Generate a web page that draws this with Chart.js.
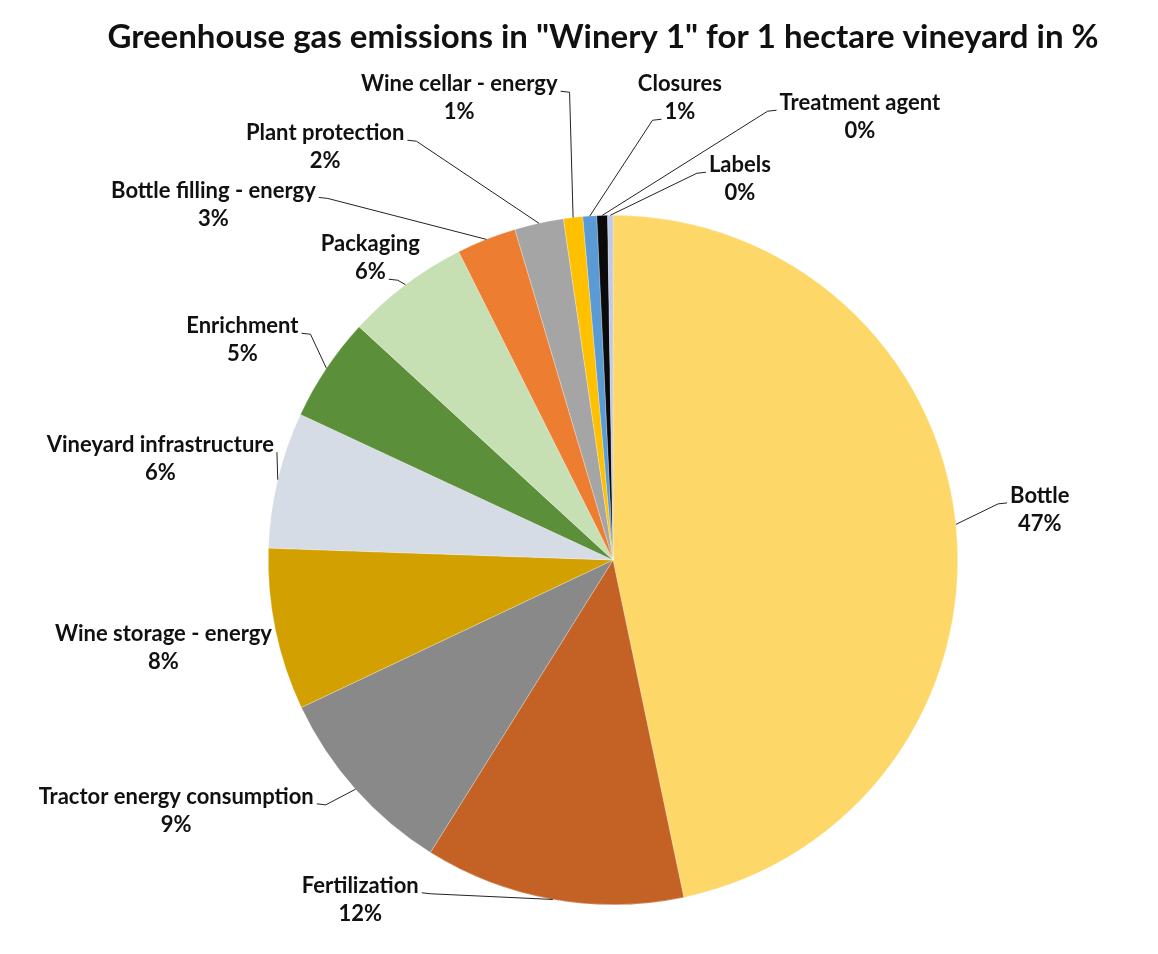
<!DOCTYPE html>
<html lang="en">
<head>
    <meta charset="UTF-8">
    <title>Greenhouse gas emissions in "Winery 1"</title>
    <script src="https://cdn.jsdelivr.net/npm/chart.js"></script>
    <style>
        body {
            margin: 0;
            background: #fff;
        }

        #wrap {
            width: 1158px;
            height: 954px;
        }
    </style>
</head>
<body>
    <div id="wrap">
        <canvas id="chart" width="1158" height="954"></canvas>
    </div>

    <script>
        // categories, clockwise from 12 o'clock
        const categories = [
            'Bottle', 'Fertilization', 'Tractor energy consumption', 'Wine storage - energy',
            'Vineyard infrastructure', 'Enrichment', 'Packaging', 'Bottle filling - energy',
            'Plant protection', 'Wine cellar - energy', 'Closures', 'Treatment agent', 'Labels'
        ];
        // share in %
        const shares = [46.8, 12.2, 9.1, 7.6, 6.4, 4.9, 5.8, 2.8, 2.3, 0.9, 0.65, 0.5, 0.25];
        // rounded values printed on the chart
        const shareLabels = ['47%', '12%', '9%', '8%', '6%', '5%', '6%', '3%', '2%', '1%', '1%', '0%', '0%'];

        const titleText = 'Greenhouse gas emissions in "Winery 1" for 1 hectare vineyard in %';

        const colors = [
            '#FDD768', '#C46226', '#898989', '#D2A000', '#D6DCE5', '#5B8F3A', '#C6E0B4',
            '#ED7D31', '#A5A5A5', '#FFC000', '#5B9BD5', '#0A0A0A', '#BFC9EA'
        ];

        // label centre relative to pie centre, in units of radius, plus where the leader line leaves the text
        const labelPos = [
            [1.238, -0.186, 'nameLeft'],
            [-0.733, 0.945, 'nameRight'],
            [-1.267, 0.687, 'nameRight'],
            [-1.304, 0.214, 'none'],
            [-1.313, -0.333, 'nameRightDown'],
            [-1.075, -0.678, 'nameRight'],
            [-0.704, -0.916, 'pctRight'],
            [-1.159, -1.072, 'nameRight'],
            [-0.835, -1.238, 'nameRight'],
            [-0.446, -1.380, 'nameRight'],
            [0.194, -1.380, 'pctLeft'],
            [0.716, -1.325, 'nameLeft'],
            [0.368, -1.145, 'nameLeft']
        ];

        const labelFont = 'bold 22px Lato';
        const lineGap = 28;

        const calloutPlugin = {
            id: 'callouts',
            afterDatasetsDraw(chart) {
                const ctx = chart.ctx;
                const arcs = chart.getDatasetMeta(0).data;
                ctx.save();
                ctx.textAlign = 'center';
                ctx.textBaseline = 'middle';
                ctx.fillStyle = '#111';

                // title
                ctx.font = 'bold 33px Lato';
                ctx.fillText(titleText, 603, 37);

                ctx.font = labelFont;
                ctx.strokeStyle = '#222';
                ctx.lineWidth = 1;

                arcs.forEach((arc, i) => {
                    const { x, y, outerRadius, startAngle, endAngle } = arc.getProps(
                        ['x', 'y', 'outerRadius', 'startAngle', 'endAngle'], true);
                    const mid = (startAngle + endAngle) / 2;
                    const px = x + Math.cos(mid) * outerRadius;
                    const py = y + Math.sin(mid) * outerRadius;

                    const [rx, ry, anchor] = labelPos[i];
                    const lx = x + rx * outerRadius;
                    const ly = y + ry * outerRadius;

                    ctx.fillText(categories[i], lx, ly);
                    ctx.fillText(shareLabels[i], lx, ly + lineGap);

                    if (anchor === 'none') return;
                    const nameW = ctx.measureText(categories[i]).width;
                    const pctW = ctx.measureText(shareLabels[i]).width;
                    let sx, sy, dir;
                    if (anchor.startsWith('nameRight')) {
                        sx = lx + nameW / 2 + 3; sy = ly + 7; dir = 1;
                    } else if (anchor === 'nameLeft') {
                        sx = lx - nameW / 2 - 3; sy = ly + 7; dir = -1;
                    } else if (anchor === 'pctLeft') {
                        sx = lx - pctW / 2 - 3; sy = ly + lineGap + 7; dir = -1;
                    } else {
                        sx = lx + pctW / 2 + 3; sy = ly + lineGap + 7; dir = 1;
                    }
                    ctx.beginPath();
                    ctx.moveTo(sx, sy);
                    if (anchor !== 'nameRightDown') {
                        ctx.lineTo(sx + dir * 9, sy + 1);
                    }
                    ctx.lineTo(px, py);
                    ctx.stroke();
                });
                ctx.restore();
            }
        };

        new Chart(document.getElementById('chart'), {
            type: 'pie',
            data: {
                labels: categories,
                datasets: [{
                    data: shares,
                    backgroundColor: colors,
                    borderColor: 'rgba(255,255,255,0.5)',
                    borderWidth: 0.5
                }]
            },
            options: {
                responsive: false,
                animation: false,
                layout: {
                    padding: { top: 215, left: 268, right: 200, bottom: 49 }
                },
                plugins: {
                    legend: { display: false },
                    tooltip: { enabled: false },
                    title: { display: false }
                }
            },
            plugins: [calloutPlugin]
        });
    </script>
</body>
</html>
